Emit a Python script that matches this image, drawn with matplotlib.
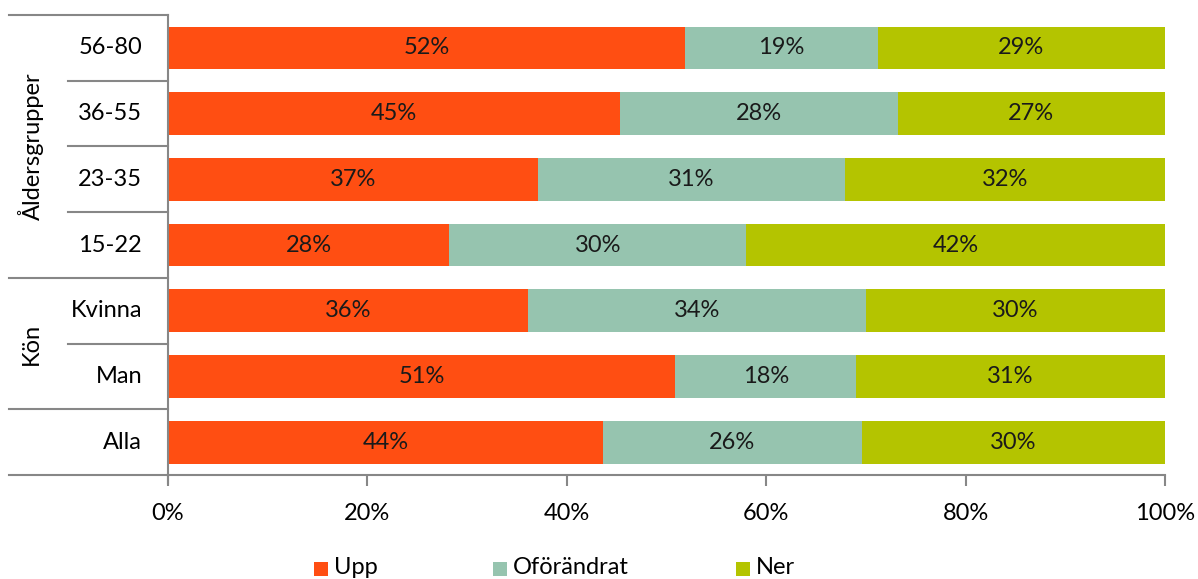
import matplotlib
matplotlib.use("Agg")
import matplotlib.pyplot as plt
from matplotlib.patches import Rectangle
import matplotlib.transforms as mtransforms

plt.rcParams['font.family'] = ['Lato', 'DejaVu Sans']

categories = ["56-80", "36-55", "23-35", "15-22", "Kvinna", "Man", "Alla"]
upp = [51.9, 45.3, 37.1, 28.2, 36.1, 50.9, 43.6]
oforandrat = [19.3, 27.9, 30.8, 29.8, 33.9, 18.1, 26.0]
ner = [28.8, 26.8, 32.1, 42.0, 30.0, 31.0, 30.4]
series_names = ["Upp", "Oförändrat", "Ner"]
colors = ["#FF4E12", "#96C4AF", "#B4C400"]
xticks = [0, 20, 40, 60, 80, 100]
groups = [("Åldersgrupper", 0, 3), ("Kön", 4, 5), ("", 6, 6)]
legend_x_px = [314, 493, 736]

W, H = 1198, 579
fig = plt.figure(figsize=(W/100, H/100), dpi=100)
ax = fig.add_axes([168/W, 1-475/H, 997/W, 460/H])

fs = 17
y = list(range(len(categories)))
left = [0]*len(categories)
for name, vals, col in zip(series_names, [upp, oforandrat, ner], colors):
    ax.barh(y, vals, left=left, height=0.65, color=col, label=name)
    for yi, l, v in zip(y, left, vals):
        ax.text(l + v/2, yi, f"{round(v):d}%", ha='center', va='center', fontsize=fs, color='#1a1a1a')
    left = [a+b for a, b in zip(left, vals)]

ax.set_xlim(0, 100)
ax.set_ylim(6.5, -0.5)
ax.set_xticks(xticks)
ax.set_xticklabels([f"{t}%" for t in xticks], fontsize=fs)
ax.tick_params(axis='x', length=8, width=1.5, color='#878787', pad=12)
ax.set_yticks([])
for s in ['top', 'right']:
    ax.spines[s].set_visible(False)
for s in ['left', 'bottom']:
    ax.spines[s].set_color('#878787')
    ax.spines[s].set_linewidth(1.5)

trans = mtransforms.blended_transform_factory(ax.transAxes, ax.transData)
lc = '#878787'
x_outer = (9-168)/997
x_inner = (68-168)/997
for i, c in enumerate(categories):
    ax.text(-26/997, i, c, transform=trans, ha='right', va='center', fontsize=fs)
outer_bounds = set()
for name, a, b in groups:
    outer_bounds.add(a-0.5)
    outer_bounds.add(b+0.5)
    if name:
        ax.text(-137/997, (a+b)/2, name, transform=trans, rotation=90, ha='center', va='center', fontsize=fs)
    for k in range(a, b):
        ax.plot([x_inner, 0], [k+0.5, k+0.5], transform=trans, color=lc, lw=1.5, clip_on=False)
for yb in outer_bounds:
    ax.plot([x_outer, 0], [yb, yb], transform=trans, color=lc, lw=1.5, clip_on=False)
ax.plot([0, 0], [6.5, 6.5 + 8/65.7], transform=trans, color=lc, lw=1.5, clip_on=False)

# legend drawn manually at the bottom
for xp, name, col in zip(legend_x_px, series_names, colors):
    fig.patches.append(Rectangle((xp/W, 1-576/H), 14/W, 14/H, transform=fig.transFigure,
                                 facecolor=col, edgecolor='none'))
    fig.text((xp+20)/W, 1-568/H, name, ha='left', va='center', fontsize=fs)

fig.savefig("out.png", dpi=100)
